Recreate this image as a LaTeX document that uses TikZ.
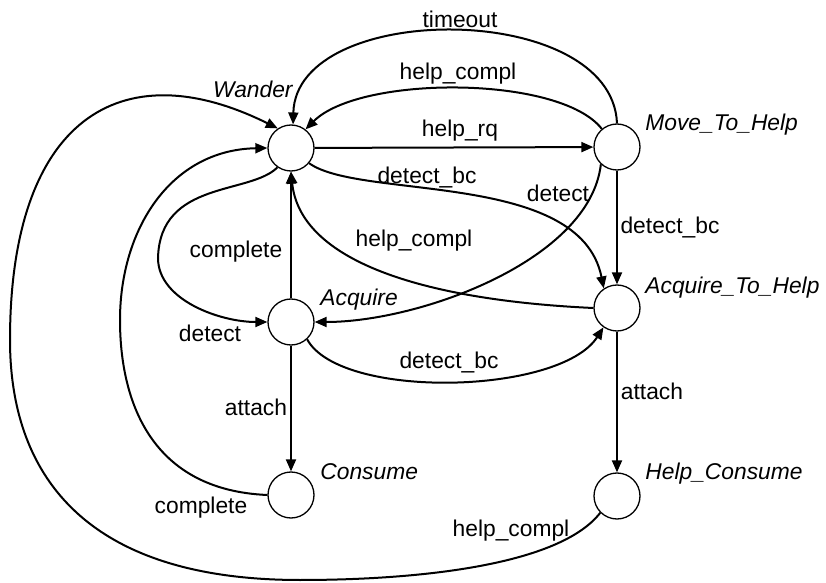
\documentclass[tikz,border=0pt]{standalone}
\usepackage{fontspec}
\setmainfont{Liberation Sans}
\usetikzlibrary{arrows.meta}

\tikzset{
  estado/.style={circle, draw, line width=0.65pt, minimum size=23pt, inner sep=0pt},
  trans/.style={line width=1pt, -{Triangle[length=6pt,width=5pt]}},
  etiq/.style={font=\fontsize{11.4}{13}\selectfont, inner sep=0pt},
  nombre/.style={font=\fontsize{11.4}{13}\selectfont\itshape, inner sep=0pt, anchor=base west},
}

\begin{document}
\begin{tikzpicture}[x=0.5pt, y=-0.5pt]
        \useasboundingbox (0,0) rectangle (826,583);
        % Estados
        \node[estado] (W) at (291,148) {};
        \node[estado] (M) at (617,147) {};
        \node[estado] (A) at (291,322) {};
        \node[estado] (ATH) at (617,308) {};
        \node[estado] (C) at (291,495) {};
        \node[estado] (HC) at (617,496) {};
        % Nombres de los estados
        \node[nombre, anchor=base east] (nW) at (293,98) {Wander};
        \node[nombre] (nM) at (645,131) {Move\_To\_Help};
        \node[nombre] (nA) at (320,306) {Acquire};
        \node[nombre] (nATH) at (645,293) {Acquire\_To\_Help};
        \node[nombre] (nC) at (320,479) {Consume};
        \node[nombre] (nHC) at (645,479) {Help\_Consume};
        % Transiciones rectas
        \draw[trans] (W) -- (M);
        \draw[trans] (M) -- (ATH);
        \draw[trans] (ATH) -- (HC);
        \draw[trans] (A) -- (W);
        \draw[trans] (A) -- (C);
        % Transiciones curvas
        \draw[trans] (M.90) .. controls (612,0) and (296,0) .. (W.85);
        \draw[trans] (M.130) .. controls (560,75) and (360,75) .. (W.52);
        \draw[trans] (W.-40) .. controls (360,200) and (580,170) .. (ATH.124);
        \draw[trans] (M.227) .. controls (590,260) and (420,322) .. (A.0);
        \draw[trans] (ATH.180) .. controls (420,300) and (300,260) .. (W.-90);
        \draw[trans] (A.-47) .. controls (340,400) and (560,395) .. (ATH.235);
        \draw[trans] (W.235) .. controls (250,195) and (160,180) .. (158,258)
                .. controls (158,300) and (220,322) .. (A.180);
        \draw[trans] (C.180) .. controls (150,490) and (120,400) .. (120,320)
                .. controls (120,230) and (170,150) .. (W.180);
        \draw[trans] (HC.225) .. controls (560,565) and (420,580) .. (300,580)
                .. controls (80,580) and (10,470) .. (10,340)
                .. controls (10,120) and (120,50) .. (W.124);
        % Etiquetas de las transiciones
        \node[etiq] (t1) at (460,19) {timeout};
        \node[etiq] (t2) at (458,74) {help\_compl};
        \node[etiq] (t3) at (460,131) {help\_rq};
        \node[etiq] (t4) at (427,178) {detect\_bc};
        \node[etiq] (t5) at (558,193) {detect};
        \node[etiq] (t6) at (670,228) {detect\_bc};
        \node[etiq] (t7) at (414,241) {help\_compl};
        \node[etiq] (t8) at (236,252) {complete};
        \node[etiq] (t9) at (210,333) {detect};
        \node[etiq] (t10) at (449,363) {detect\_bc};
        \node[etiq] (t11) at (256,407) {attach};
        \node[etiq] (t12) at (652,391) {attach};
        \node[etiq] (t13) at (201,508) {complete};
        \node[etiq] (t14) at (511,531) {help\_compl};
\end{tikzpicture}
\end{document}
